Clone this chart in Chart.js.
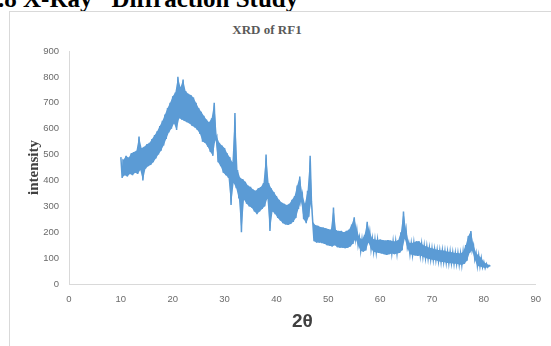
<!DOCTYPE html>
<html>
<head>
<meta charset="utf-8">
<script src="https://cdn.jsdelivr.net/npm/chart.js@4"></script>
<style>
  html, body { margin: 0; padding: 0; background: #fff; overflow: hidden; }
  #page { position: relative; width: 551px; height: 346px; overflow: hidden; }
  #heading {
    position: absolute; left: -14.5px; top: -13.9px; white-space: nowrap;
    font: bold 25px/25px "Liberation Serif", "Times New Roman", serif; color: #000;
  }
  #heading .gap { display: inline-block; width: 19px; }
  #frame {
    position: absolute; left: 9px; top: 11px; width: 600px; height: 400px;
    border: 1px solid #d9d9d9; box-sizing: border-box;
  }
  #chartTitle {
    position: absolute; left: 167px; width: 200px; top: 21px; text-align: center;
    font: bold 13px/18px "Liberation Serif", "Times New Roman", serif; color: #595959;
  }
  canvas { position: absolute; left: 0; top: 0; }
</style>
</head>
<body>
<div id="page">
  <div id="heading">3.8 X-Ray<span class="gap"></span>Diffraction Study</div>
  <div id="frame"></div>
  <div id="chartTitle">XRD of RF1</div>
  <canvas id="xrdChart" width="551" height="346"></canvas>
</div>
<script>
// 2θ positions (degrees) with the upper and lower edge of the noisy trace
const twoTheta = [10, 10.5, 11, 11.5, 12, 12.5, 13, 13.5, 14, 14.5, 15, 15.5, 16, 16.5, 17, 17.5, 18, 18.5, 19, 19.5,
  20, 20.5, 21, 21.5, 22, 22.5, 23, 23.5, 24, 24.5, 25, 25.5, 26, 26.5, 27, 27.5, 28, 28.5, 29, 29.5,
  30, 30.5, 31, 31.5, 32, 32.5, 33, 33.5, 34, 34.5, 35, 35.5, 36, 36.5, 37, 37.5, 38, 38.5, 39, 39.5,
  40, 40.5, 41, 41.5, 42, 42.5, 43, 43.5, 44, 44.5, 45, 45.5, 46, 46.5, 47, 47.5, 48, 48.5, 49, 49.5,
  50, 50.5, 51, 51.5, 52, 52.5, 53, 53.5, 54, 54.5, 55, 55.5, 56, 56.5, 57, 57.5, 58, 58.5, 59, 59.5,
  60, 60.5, 61, 61.5, 62, 62.5, 63, 63.5, 64, 64.5, 65, 65.5, 66, 66.5, 67, 67.5, 68, 68.5, 69, 69.5,
  70, 70.5, 71, 71.5, 72, 72.5, 73, 73.5, 74, 74.5, 75, 75.5, 76, 76.5, 77, 77.5, 78, 78.5, 79, 79.5,
  80, 80.5, 81];
const intensityHigh = [490, 480, 495, 488, 505, 510, 515, 570, 525, 530, 540, 545, 560, 575, 590, 610, 630, 655, 680, 700,
  725, 740, 800, 760, 790, 745, 735, 730, 720, 700, 680, 665, 650, 635, 625, 640, 700, 570, 545, 535,
  525, 505, 490, 470, 660, 440, 410, 405, 395, 380, 375, 365, 360, 370, 375, 390, 500, 390, 370, 355,
  340, 325, 315, 310, 305, 310, 325, 340, 380, 415, 345, 310, 360, 495, 240, 228, 225, 220, 218, 215,
  212, 210, 295, 208, 205, 205, 200, 205, 210, 230, 258, 210, 180, 172, 190, 240, 200, 175, 172, 170,
  172, 170, 168, 170, 168, 165, 165, 170, 200, 280, 210, 160, 158, 160, 165, 165, 155, 148, 145, 140,
  138, 135, 132, 130, 130, 128, 125, 125, 122, 120, 120, 118, 125, 150, 185, 205, 150, 120, 110, 100,
  85, 78, 72];
const intensityLow = [410, 420, 415, 425, 420, 430, 425, 440, 400, 445, 455, 460, 470, 485, 500, 515, 535, 560, 585, 600,
  620, 595, 640, 635, 630, 625, 620, 610, 605, 595, 580, 550, 545, 530, 510, 495, 560, 470, 455, 430,
  420, 410, 305, 390, 370, 330, 200, 325, 310, 300, 295, 280, 270, 280, 290, 300, 330, 205, 280, 270,
  255, 245, 235, 230, 228, 232, 240, 255, 290, 320, 250, 235, 260, 320, 165, 160, 160, 158, 155, 150,
  148, 145, 150, 142, 140, 140, 138, 140, 145, 155, 175, 150, 128, 125, 130, 160, 135, 125, 122, 120,
  118, 115, 112, 115, 118, 115, 118, 120, 130, 175, 140, 115, 112, 110, 108, 110, 105, 100, 98, 95,
  93, 92, 88, 85, 85, 82, 80, 80, 78, 78, 75, 73, 78, 90, 120, 130, 95, 70, 68, 65,
  62, 65, 68];
const xTicks = [0, 10, 20, 30, 40, 50, 60, 70, 80, 90];
const yTicks = [0, 100, 200, 300, 400, 500, 600, 700, 800, 900];

const traceBlue = '#5b9bd5';

// zig-zag between the two edges so the trace reads as a thick noisy band
const tracePoints = [];
twoTheta.forEach(function (t, i) {
  tracePoints.push({ x: t, y: intensityHigh[i] });
  tracePoints.push({ x: t + 0.25, y: intensityLow[i] });
});
const highEdge = twoTheta.map(function (t, i) { return { x: t, y: intensityHigh[i] }; });
const lowEdge = twoTheta.map(function (t, i) { return { x: t + 0.25, y: intensityLow[i] }; });

const ctx = document.getElementById('xrdChart').getContext('2d');
const xrdChart = new Chart(ctx, {
  type: 'line',
  data: {
    datasets: [{
      label: 'upper',
      data: highEdge,
      borderWidth: 0,
      borderColor: 'rgba(0,0,0,0)',
      pointRadius: 0,
      fill: false
    }, {
      label: 'lower',
      data: lowEdge,
      borderWidth: 0,
      borderColor: 'rgba(0,0,0,0)',
      backgroundColor: traceBlue,
      pointRadius: 0,
      fill: '-1'
    }, {
      label: 'RF1',
      data: tracePoints,
      borderColor: traceBlue,
      borderWidth: 1.5,
      pointRadius: 0,
      tension: 0,
      fill: false
    }]
  },
  options: {
    responsive: false,
    animation: false,
    layout: { padding: { left: 21, right: 14, top: 51, bottom: 9 } },
    plugins: {
      legend: { display: false },
      tooltip: { enabled: false }
    },
    scales: {
      x: {
        type: 'linear',
        min: xTicks[0],
        max: xTicks[xTicks.length - 1],
        afterBuildTicks: function (axis) { axis.ticks = xTicks.map(function (v) { return { value: v }; }); },
        grid: { display: false, drawTicks: false },
        border: { display: true, color: '#d9d9d9', width: 1 },
        ticks: { color: '#6b6b6b', font: { family: 'Liberation Sans', size: 9.5 }, padding: 10, maxRotation: 0 },
        title: {
          display: true, text: '2θ', color: '#404040',
          font: { family: 'Liberation Sans', size: 19, weight: 'bold' }, padding: { top: 4, bottom: 4 }
        },
        afterFit: function (axis) { axis.height = 53; }
      },
      y: {
        min: yTicks[0],
        max: yTicks[yTicks.length - 1],
        afterBuildTicks: function (axis) { axis.ticks = yTicks.map(function (v) { return { value: v }; }); },
        grid: { display: false, drawTicks: false },
        border: { display: true, color: '#d9d9d9', width: 1 },
        ticks: { color: '#6b6b6b', font: { family: 'Liberation Sans', size: 9.5 }, padding: 10 },
        title: {
          display: true, text: 'intensity', color: '#404040',
          font: { family: 'Liberation Serif', size: 15, weight: 'bold' }, padding: { top: 4, bottom: 4 }
        },
        afterFit: function (axis) { axis.width = 48; }
      }
    }
  }
});
</script>
</body>
</html>
